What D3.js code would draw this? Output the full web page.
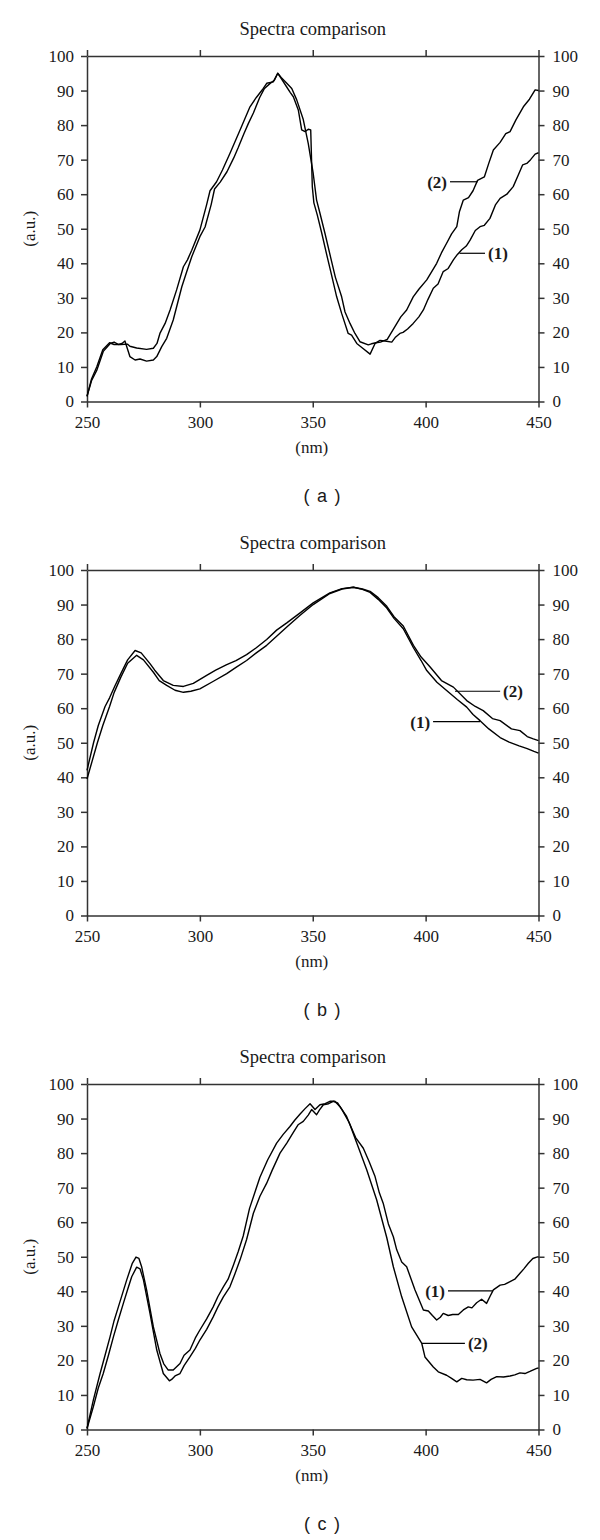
<!DOCTYPE html>
<html>
<head>
<meta charset="utf-8">
<script src="https://cdn.jsdelivr.net/npm/d3@7"></script>
<style>
  html, body { margin: 0; padding: 0; background: #fff; }
  svg { display: block; }
</style>
</head>
<body>
<script>
// ---------- data ----------
const X_TICKS = [250, 300, 350, 400, 450];
const Y_TICKS = [0, 10, 20, 30, 40, 50, 60, 70, 80, 90, 100];
const TITLE = "Spectra comparison";
const X_LABEL = "(nm)";
const Y_LABEL = "(a.u.)";
const PANEL_LETTERS = ["a", "b", "c"];

// panel (a)
const A_SERIES_1 = [[250,1.5],[252,6],[254.3,9],[257.2,14.5],[260.3,16.8],[262,17.2],[264,16.5],[265.5,16.8],[266.8,17.5],[269,13],[271.3,12],[273.5,12.3],[276.4,11.7],[279.4,12],[280.9,13],[283.1,15.9],[285.3,18.3],[288.2,23.6],[292,33.2],[294.2,37.6],[296.4,41.9],[300,47.7],[302.3,50.5],[305,57],[306.5,61.5],[309,63.5],[312,66.5],[315,70.5],[317,73.5],[319.5,77.5],[321.5,80.5],[323.7,83.5],[326.5,88],[328.5,90.5],[331,92],[333,93],[334.5,95],[336,93.5],[338.4,91.1],[340,89.5],[341.4,88.2],[343.6,84.4],[345.1,78.6],[346.6,78.1],[348,78.8],[349.1,78.6],[349.8,62.2],[350.5,57.5],[352,54],[354,48.7],[356,43],[358,37.5],[360.6,30.3],[362.8,25.5],[365.7,19.7],[367.2,19.2],[369.5,16.8],[372,15.5],[375.4,13.7],[377.6,16.8],[379.8,17.7],[382,17.5],[385,17.2],[386.5,18.5],[388.6,19.7],[390,20],[392,21],[394.5,22.6],[397,24.5],[399,26.5],[401,29.5],[403.4,32.8],[405.5,34],[407.8,37.6],[410,38.5],[412.3,41],[414,42.5],[416,43.9],[418,45],[419.7,46.7],[422,49.5],[424.1,50.6],[426,51],[428.5,53],[431,57],[433,58.8],[436,60],[438.8,62.2],[441,65.5],[443,68.5],[444.8,68.9],[446.5,70],[448.5,71.6],[450,72]];
const A_SERIES_2 = [[250,1.5],[252,6.5],[254.3,10],[257,15],[260,17],[262,16.5],[265,16.5],[268,16.6],[269,16],[272,15.5],[276.4,15.1],[279.4,15.4],[281,16.8],[282.3,19.7],[284.6,22.6],[286.8,26.5],[289.7,32.3],[292.7,39],[294.5,41],[296.4,43.8],[300,49.6],[303,57],[304.5,61],[307.4,63.6],[310,67],[313.3,71.8],[317.8,78.6],[322.2,85.3],[325,88],[328.1,90.6],[329.6,92.1],[332.5,92.5],[334.5,95],[336,93.8],[338.5,92.1],[340.7,90.6],[342.9,87.3],[345.8,81.6],[348,74.7],[350.2,66],[351.7,58.3],[353,55],[355.4,48.7],[358,41.5],[360,36],[362.8,30.3],[364.3,25.9],[366.5,22.6],[368.7,19.7],[370.9,17.3],[374.6,16.4],[376,16.7],[378,17],[380,17.2],[383,18],[386.4,21.7],[389,24.5],[391.6,26.5],[394.5,30.3],[397,32.5],[400.5,35.2],[404.9,40],[407,43],[409.3,45.8],[411.5,48.5],[413.8,50.6],[415,55],[416.7,58.3],[419,59],[421,61],[423,64],[426,65],[428,69],[430,72.8],[433,75],[435.5,77.5],[437.4,78.1],[440,81.5],[443.3,85.3],[446,87.5],[448.5,90.2],[450,90]];
// label: [text, anchor nm, anchor value, line-end nm]
const A_LABELS = [["(2)", 423, 63.6, 410.8], ["(1)", 415, 42.9, 426.3]];

// panel (b)
const B_SERIES_1 = [[250,39.5],[254.6,50],[257,55],[260,60.5],[262,64.5],[265,69],[268,73],[272,75.3],[275,74],[279.4,70.4],[282,68],[285.3,66.6],[289,65.2],[292.7,64.6],[296,64.9],[300,65.6],[306,67.8],[311.9,70],[316,71.8],[320.7,73.8],[325,76],[329.6,78.2],[334,80.8],[338.5,83.5],[344.4,86.9],[350.2,90],[357.6,93.2],[363,94.5],[368,95],[372,94.4],[375.4,93.5],[379,91.5],[382.8,89],[386,86],[390.1,83],[394.6,77.5],[398,73.8],[400.5,70.9],[405,67.5],[409.3,65.1],[414,62.5],[418.2,60.3],[421,58.2],[424.1,56.4],[428,54],[433,51.5],[437,50.2],[441.4,49.1],[445,48.3],[448,47.5],[450,47]];
const B_SERIES_2 = [[250,42],[252.9,50],[255,55],[258,60.5],[260,63],[262.4,66.5],[265,70],[268,74],[271.3,76.7],[274,76],[277.9,72.9],[280,71],[283.8,68],[288.2,66.6],[292.7,66.3],[297.1,67.2],[303,69.5],[307,71],[311.9,72.6],[316,73.8],[320.7,75.5],[325,77.5],[329.6,79.9],[334,82.6],[338.5,84.7],[344.4,87.6],[350.2,90.5],[357.6,93.4],[363,94.6],[368,95],[372,94.5],[375.4,93.8],[379,92],[382.8,89.5],[386,86.5],[390.1,83.8],[394.6,78.2],[398,74.8],[401.9,72],[407,68],[412.3,66.1],[418.2,62.2],[422,60.5],[425.5,59.3],[429.6,57],[433,56.4],[438,54],[441.8,53.5],[445,51.8],[447.7,51.1],[450,50.6]];
const B_LABELS = [["(2)", 413, 64.9, 433], ["(1)", 424.1, 56.1, 403.3]];

// panel (c)
const C_SERIES_1 = [[250,0.3],[252.8,6.6],[255,12],[257.2,16.2],[259.5,21.5],[261.7,26.8],[264,32],[266.1,36.5],[268,40.5],[269.8,44.2],[272,47],[273.5,46.5],[275,43.3],[277.9,33.6],[280.9,23],[283.8,16.2],[286.5,14.1],[287.5,14.5],[289,15.5],[291.2,16.2],[293,18.5],[295.6,21],[298,23.5],[300,25.9],[303,29],[305.9,32.6],[308,35.5],[310.4,38.4],[313.3,41.3],[315.5,45],[317.8,49.1],[320.7,55],[323.7,62.6],[326.6,67.5],[329.6,71.3],[332,75],[335.5,80],[338.5,82.9],[341.4,86],[343.5,88.2],[345.8,89.2],[348,91],[349.5,92.6],[351.7,91.1],[353,92.5],[354.7,94],[357,94.3],[359.1,95],[361,94.5],[363,92.5],[366,89],[369,84.5],[372.4,81.4],[375,77.5],[377.6,73.2],[379.5,68.5],[381.2,65.5],[383.5,59.5],[385.7,55.8],[387.2,52],[389.4,48.5],[391.6,47.1],[395.3,40.4],[399,34.6],[401.2,34.3],[403,33],[404.9,31.7],[406.5,32.5],[407.8,33.6],[410,33],[412,33.3],[414.5,33.3],[416.7,34.6],[418.9,35.5],[420.5,35.2],[422.6,36.7],[424.8,37.7],[427,36.5],[428.5,38.5],[430,40.4],[433,41.8],[435,42],[437.4,42.8],[439.5,43.5],[441.8,45.2],[443.5,46.5],[445.5,48.1],[447.5,49.5],[449.2,49.9],[450,50]];
const C_SERIES_2 = [[250,0.3],[252.8,8.5],[255.8,16.2],[258,21.5],[260.2,26.8],[262,31.5],[263.9,35.5],[267.6,43.3],[270,48],[271.7,49.9],[273,49.5],[274.2,47.1],[276.4,40.4],[279.4,29.7],[282.3,22],[284,19],[286,17.2],[288.2,17.2],[291.2,19.1],[293,21.5],[295.6,23],[298,26.5],[300,28.8],[303,32],[305.9,35.5],[308,38.5],[310.4,41.3],[312.5,43.5],[314.8,47.5],[317,51.5],[319.2,56],[322,64],[326.6,73],[330,78],[334,82.9],[337,85.5],[339.9,87.7],[342,89.5],[344.4,91.3],[346.5,92.8],[348.8,94.3],[351,92.6],[353.2,94],[355.5,94.3],[357.6,95],[359.8,95],[362,93.5],[365,90.6],[366.5,88.2],[369.5,82.9],[373.9,75.2],[378.3,66.5],[382.8,55.5],[385.7,47.1],[389.4,38.4],[393.8,29.7],[398.3,24.9],[399.7,21],[403.4,18.1],[405.6,16.7],[409.3,15.7],[411.5,14.8],[413.8,13.8],[416,14.8],[418.2,14.4],[421,14.3],[424.1,14.5],[427,13.5],[429,14.5],[431.5,15.3],[434.5,15.2],[437.4,15.5],[439.5,15.8],[441.8,16.4],[444,16.2],[446.2,16.8],[449.2,17.7],[450,17.8]];
const C_LABELS = [["(1)", 429.8, 40.1, 409.9], ["(2)", 398.3, 24.9, 417.4]];

// ---------- drawing ----------
const panels = [
  { letter: PANEL_LETTERS[0], series: [A_SERIES_1, A_SERIES_2], labels: A_LABELS },
  { letter: PANEL_LETTERS[1], series: [B_SERIES_1, B_SERIES_2], labels: B_LABELS },
  { letter: PANEL_LETTERS[2], series: [C_SERIES_1, C_SERIES_2], labels: C_LABELS }
];

const W = 600, H = 1540;
const SERIF = "'Liberation Serif', 'Times New Roman', serif";
const SANS = "'Liberation Sans', Arial, sans-serif";
const AXIS_COLOR = "#333";
const TEXT_COLOR = "#1a1a1a";

const svg = d3.select("body").append("svg").attr("width", W).attr("height", H);

const PLOT_LEFT = 87, PLOT_RIGHT = 538.5, PLOT_TOP = 56, PLOT_H = 345.5, STEP = 514;

panels.forEach((p, i) => {
  const oy = i * STEP;
  const x = d3.scaleLinear().domain([250, 450]).range([PLOT_LEFT, PLOT_RIGHT]);
  const y = d3.scaleLinear().domain([0, 100]).range([PLOT_TOP + PLOT_H + oy, PLOT_TOP + oy]);
  const g = svg.append("g");

  const styleAxis = sel => {
    sel.attr("font-family", SERIF).attr("font-size", 17);
    sel.selectAll("path.domain").attr("stroke", AXIS_COLOR).attr("stroke-width", 1.5);
    sel.selectAll(".tick line").attr("stroke", AXIS_COLOR).attr("stroke-width", 1.5);
    sel.selectAll(".tick text").attr("fill", TEXT_COLOR);
  };

  g.append("g").attr("transform", `translate(0,${y(0)})`)
    .call(d3.axisBottom(x).tickValues(X_TICKS).tickSize(6).tickSizeOuter(0).tickPadding(8).tickFormat(d3.format("d")))
    .call(styleAxis);
  g.append("g").attr("transform", `translate(0,${y(100)})`)
    .call(d3.axisTop(x).tickValues(X_TICKS).tickSize(6).tickSizeOuter(0).tickFormat(""))
    .call(styleAxis);
  g.append("g").attr("transform", `translate(${x(250)},0)`)
    .call(d3.axisLeft(y).tickValues(Y_TICKS).tickSize(6).tickSizeOuter(0).tickPadding(7).tickFormat(d3.format("d")))
    .call(styleAxis);
  g.append("g").attr("transform", `translate(${x(450)},0)`)
    .call(d3.axisRight(y).tickValues(Y_TICKS).tickSize(6).tickSizeOuter(0).tickPadding(8).tickFormat(d3.format("d")))
    .call(styleAxis);

  // title
  g.append("text").attr("x", (x(250) + x(450)) / 2).attr("y", y(100) - 21)
    .attr("text-anchor", "middle").attr("font-family", SERIF).attr("font-size", 18.5)
    .attr("fill", TEXT_COLOR).text(TITLE);
  // x label
  g.append("text").attr("x", (x(250) + x(450)) / 2 - 1).attr("y", y(0) + 51.5)
    .attr("text-anchor", "middle").attr("font-family", SERIF).attr("font-size", 17)
    .attr("fill", TEXT_COLOR).text(X_LABEL);
  // y label
  g.append("text").attr("transform", `translate(35,${(y(0) + y(100)) / 2}) rotate(-90)`)
    .attr("text-anchor", "middle").attr("font-family", SERIF).attr("font-size", 17)
    .attr("fill", TEXT_COLOR).text(Y_LABEL);
  // panel letter
  g.append("text").attr("x", 322).attr("y", y(0) + 100)
    .attr("text-anchor", "middle").attr("font-family", SANS).attr("font-size", 18)
    .attr("fill", TEXT_COLOR).style("word-spacing", "2.5px").text(`( ${p.letter} )`);

  // curves
  const line = d3.line().x(d => x(d[0])).y(d => y(d[1]));
  p.series.forEach(s => {
    g.append("path").datum(s).attr("d", line)
      .attr("fill", "none").attr("stroke", "#000").attr("stroke-width", 1.4)
      .attr("stroke-linejoin", "round");
  });

  // curve labels
  p.labels.forEach(([txt, nm, v, endNm]) => {
    const yy = y(v);
    g.append("line").attr("x1", x(nm)).attr("x2", x(endNm)).attr("y1", yy).attr("y2", yy)
      .attr("stroke", "#000").attr("stroke-width", 1.2);
    const toRight = endNm > nm;
    g.append("text").attr("x", x(endNm) + (toRight ? 3 : -3)).attr("y", yy).attr("dy", "0.35em")
      .attr("text-anchor", toRight ? "start" : "end")
      .attr("font-family", SERIF).attr("font-size", 17).attr("font-weight", "bold")
      .attr("fill", TEXT_COLOR).text(txt);
  });
});
</script>
</body>
</html>
